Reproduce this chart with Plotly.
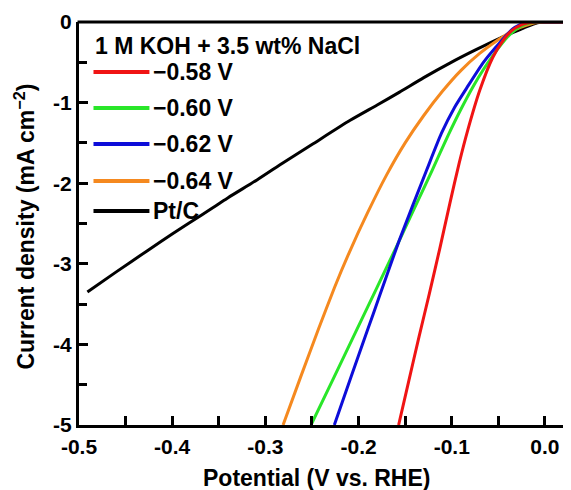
import plotly.graph_objects as go

# ---- data ----
series_names = ["\u22120.58 V", "\u22120.60 V", "\u22120.62 V", "\u22120.64 V", "Pt/C"]
series_colors = ["#f01414", "#29e629", "#0d0dd9", "#f5891f", "#000000"]

red_x = [-0.157, -0.146, -0.135, -0.124, -0.113, -0.102, -0.092, -0.083, -0.070, -0.056, -0.045, -0.036, -0.024, -0.013, 0.0, 0.028]
red_y = [-5.0, -4.45, -3.90, -3.37, -2.82, -2.25, -1.75, -1.35, -0.85, -0.44, -0.23, -0.11, -0.03, 0.0, 0.0, 0.0]

green_x = [-0.251, -0.226, -0.202, -0.180, -0.159, -0.140, -0.121, -0.104, -0.090, -0.077, -0.066, -0.056, -0.047, -0.038, -0.027, -0.015, 0.0, 0.028]
green_y = [-5.0, -4.40, -3.82, -3.29, -2.78, -2.31, -1.84, -1.41, -1.08, -0.80, -0.59, -0.42, -0.28, -0.16, -0.06, -0.01, 0.0, 0.0]

blue_x = [-0.226, -0.208, -0.190, -0.179, -0.156, -0.127, -0.111, -0.097, -0.084, -0.066, -0.048, -0.034, -0.020, 0.0, 0.028]
blue_y = [-5.0, -4.40, -3.81, -3.45, -2.70, -1.84, -1.38, -1.06, -0.82, -0.50, -0.25, -0.08, 0.0, 0.0, 0.0]

orange_x = [-0.281, -0.262, -0.243, -0.226, -0.210, -0.190, -0.170, -0.150, -0.130, -0.110, -0.090, -0.070, -0.050, -0.035, -0.020, -0.005, 0.028]
orange_y = [-5.0, -4.40, -3.81, -3.30, -2.86, -2.36, -1.90, -1.50, -1.16, -0.86, -0.60, -0.39, -0.22, -0.11, -0.04, 0.0, 0.0]

ptc_x = [-0.491, -0.460, -0.427, -0.400, -0.373, -0.340, -0.309, -0.280, -0.250, -0.209, -0.180, -0.156, -0.130, -0.102, -0.075, -0.048, -0.034, -0.020, -0.008, 0.0, 0.028]
ptc_y = [-3.35, -3.10, -2.84, -2.63, -2.43, -2.18, -1.96, -1.74, -1.52, -1.22, -1.03, -0.87, -0.69, -0.51, -0.35, -0.20, -0.13, -0.06, -0.01, 0.0, 0.0]

x_tick_vals = [-0.5, -0.4, -0.3, -0.2, -0.1, 0.0]
x_tick_text = ["-0.5", "-0.4", "-0.3", "-0.2", "-0.1", "0.0"]
x_minor_vals = [-0.45, -0.35, -0.25, -0.15, -0.05]
y_tick_vals = [0, -1, -2, -3, -4, -5]
y_tick_text = ["0", "-1", "-2", "-3", "-4", "-5"]
y_minor_vals = [-0.5, -1.5, -2.5, -3.5, -4.5]

legend_title = "1 M KOH + 3.5 wt% NaCl"
x_title = "Potential (V vs. RHE)"
y_title = "Current density (mA cm<sup>\u22122</sup>)"

FONT = "Liberation Sans, Arial, Helvetica, sans-serif"

xs = [red_x, green_x, blue_x, orange_x, ptc_x]
ys = [red_y, green_y, blue_y, orange_y, ptc_y]

fig = go.Figure()
order = [4, 3, 1, 2, 0]
for i in order:
    fig.add_trace(go.Scatter(x=xs[i], y=ys[i], mode="lines", name=series_names[i],
                             line=dict(color=series_colors[i], width=3, shape="spline", smoothing=0.6),
                             showlegend=False))

# The page adds an 8px body margin; work in screen pixels and offset.
OFF = 8
W, H = 571 - OFF, 490 - OFF
plot_left, plot_right, plot_top, plot_bottom = 78.5, 571, 22, 425  # screen px
ml = plot_left - OFF
mr = (571 - OFF) - (plot_right - OFF)
mt = plot_top - OFF
mb = H - (plot_bottom - OFF)
pw, ph = W - ml - mr, H - mt - mb

def px2paper(px, py):
    fx, fy = px - OFF, py - OFF
    return (fx - ml) / pw, (H - mb - fy) / ph

axis_font = dict(family=FONT, size=21, color="black", weight="bold")
title_font = dict(family=FONT, size=23, color="black", weight="bold")
legend_font = dict(family=FONT, size=23, color="black", weight="bold")

common = dict(ticks="inside", ticklen=9, tickwidth=3, tickcolor="black",
              showline=True, linewidth=3, linecolor="black", mirror=False,
              showgrid=False, zeroline=False, tickfont=axis_font, automargin=False)

fig.update_layout(
    width=W, height=H,
    margin=dict(l=ml, r=mr, t=mt, b=mb, pad=0),
    paper_bgcolor="white", plot_bgcolor="white",
    showlegend=False,
    xaxis=dict(range=[-0.5, 0.028], tickvals=x_tick_vals, ticktext=x_tick_text,
               ticklabelstandoff=1,
               minor=dict(tickvals=x_minor_vals, ticks="inside", ticklen=9, tickwidth=3, tickcolor="black"),
               **common),
    yaxis=dict(range=[-5, 0], tickvals=y_tick_vals, ticktext=y_tick_text,
               ticklabelstandoff=0,
               minor=dict(tickvals=y_minor_vals, ticks="inside", ticklen=8, tickwidth=3, tickcolor="black"),
               **common),
)

# axis titles
xt = px2paper(316, 478)
fig.add_annotation(xref="paper", yref="paper", x=xt[0], y=xt[1], text=x_title, showarrow=False,
                   xanchor="center", yanchor="middle", font=title_font)
yt = px2paper(24, 227)
fig.add_annotation(xref="paper", yref="paper", x=yt[0], y=yt[1], text=y_title, showarrow=False,
                   xanchor="center", yanchor="middle", textangle=-90, font=title_font)

# top frame line
fig.add_shape(type="line", xref="paper", yref="paper", x0=-0.003, x1=1, y0=1, y1=1,
              line=dict(color="black", width=3))

# manual legend
leg_title_xy = px2paper(93, 46)
fig.add_annotation(xref="paper", yref="paper", x=leg_title_xy[0], y=leg_title_xy[1],
                   text=legend_title, showarrow=False, xanchor="left", yanchor="middle",
                   font=legend_font)
leg_rows = [72, 108, 144, 181, 211]
for name, color, row in zip(series_names, series_colors, leg_rows):
    x0, y0 = px2paper(93, row)
    x1, _ = px2paper(149, row)
    fig.add_shape(type="line", xref="paper", yref="paper", x0=x0, x1=x1, y0=y0, y1=y0,
                  line=dict(color=color, width=4))
    tx, ty = px2paper(151, row)
    fig.add_annotation(xref="paper", yref="paper", x=tx, y=ty, text=name, showarrow=False,
                       xanchor="left", yanchor="middle", font=legend_font)

fig.write_html("out.html")
